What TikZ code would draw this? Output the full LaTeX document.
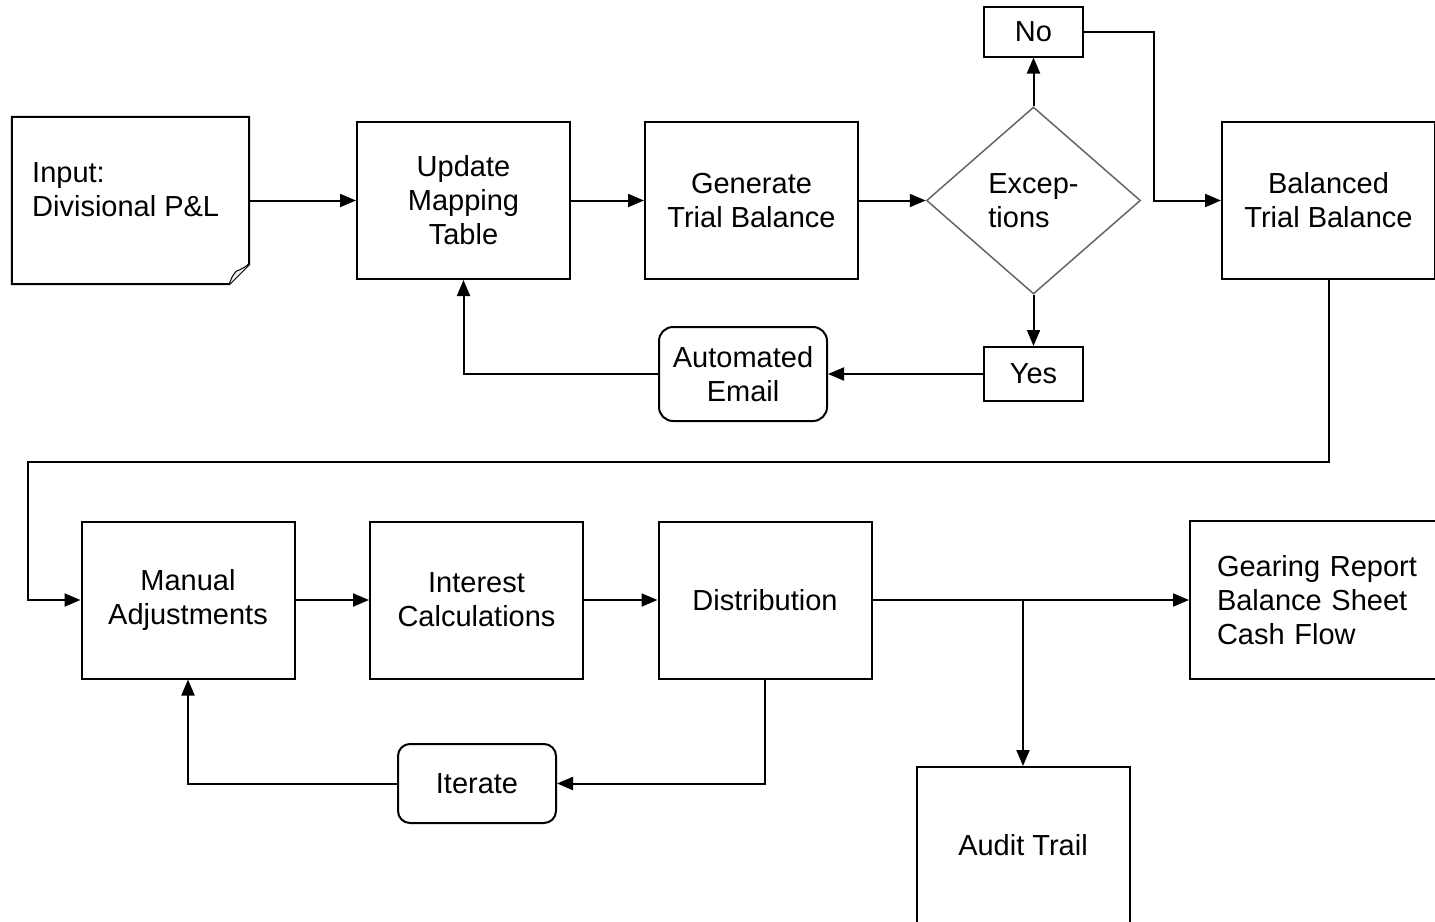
\documentclass[tikz,border=0pt]{standalone}
\usepackage{fontspec}
\setmainfont{Liberation Sans}
\usetikzlibrary{arrows.meta,shapes.geometric}
\begin{document}
\begin{tikzpicture}[x=1pt,y=-1pt,
  every node/.style={font=\fontsize{29}{34}\selectfont, text=black},
  box/.style={draw, line width=2pt, minimum width=213pt, minimum height=157pt, inner sep=0pt, align=center},
  small/.style={draw, line width=2pt, minimum width=99pt, minimum height=50pt, inner sep=0pt},
  rbox/.style={draw, line width=2pt, rounded corners=13pt, inner sep=0pt, align=center},
  arr/.style={line width=2pt, -{Triangle[length=16pt,width=13pt]}},
  ln/.style={line width=2pt}
]
\clip (0,0) rectangle (1435,921);
\fill[white] (0,0) rectangle (1435,921);

% input document
\node[minimum width=237pt, minimum height=167pt, inner sep=0pt] (input) at (130.5,200.5) {};
\draw[ln, line join=miter] (input.north west) -- (input.north east) -- ([yshift=20pt]input.south east)
  -- ([xshift=-20pt]input.south east) -- (input.south west) -- cycle;
\draw[line width=1pt, fill=gray!15] ([xshift=-20pt]input.south east) .. controls ([xshift=-17pt,yshift=8pt]input.south east) .. ([xshift=-13pt,yshift=13pt]input.south east)
  .. controls ([xshift=-8pt,yshift=15pt]input.south east) .. ([yshift=20pt]input.south east);
\node[anchor=west, align=left, inner sep=0pt] (inputtext) at (32,190) {Input:\\Divisional P\&L};

\node[box] (update) at (463.5,200.5) {Update\\Mapping\\Table};
\node[box] (gen) at (751.5,200.5) {Generate\\Trial Balance};
\node[diamond, draw=black!60, line width=1.5pt, inner sep=0pt, minimum width=214pt, minimum height=187pt, align=left] (exc) at (1033.5,200.5) {Excep-\\tions};
\node[small] (no) at (1033.5,31.5) {No};
\node[small, minimum height=54pt] (yes) at (1033.5,374) {Yes};
\node[box] (bal) at (1328.5,200.5) {Balanced\\Trial Balance};
\node[rbox, minimum width=168pt, minimum height=94pt, rounded corners=14pt] (email) at (743,374) {Automated\\Email};

\node[box] (manual) at (188,600) {Manual\\Adjustments};
\node[box] (interest) at (476.5,600) {Interest\\Calculations};
\node[box] (dist) at (765,600) {Distribution};
\node[draw, line width=2pt, anchor=west, minimum height=158pt, text width=230pt, inner xsep=27pt, inner ysep=0pt, align=left] (gear) at (1189,600) {Gearing Report\\Balance Sheet\\Cash Flow};
\node[box] (audit) at (1023,845.5) {Audit Trail};
\node[rbox, minimum width=158pt, minimum height=79pt, rounded corners=12pt] (iter) at (477,783.5) {Iterate};

% connectors
\draw[arr] (input.east) -- (update.west);
\draw[arr] (update.east) -- (gen.west);
\draw[arr] (gen.east) -- (exc.west);
\draw[arr] (exc.north) -- (no.south);
\draw[arr] (exc.south) -- (yes.north);
\draw[arr] (no.east) -- (1154,31.5) |- (bal.west);
\draw[arr] (yes.west) -- (email.east);
\draw[arr] (email.west) -| (update.south);
\draw[arr] (bal.south) -- (1328.5,462) -- (28,462) |- (manual.west);
\draw[arr] (manual.east) -- (interest.west);
\draw[arr] (interest.east) -- (dist.west);
\draw[arr] (dist.east) -- (gear.west);
\draw[arr] (dist.east -| audit.north) -- (audit.north);
\draw[arr] (dist.south) |- (iter.east);
\draw[arr] (iter.west) -| (manual.south);
\end{tikzpicture}
\end{document}
